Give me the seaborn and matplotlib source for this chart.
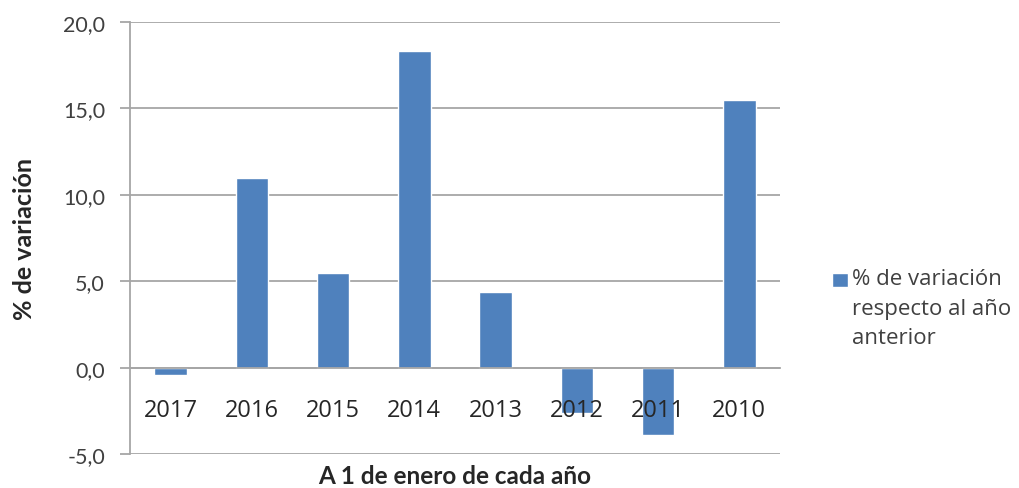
import pandas as pd
import matplotlib
matplotlib.use("Agg")
import matplotlib.pyplot as plt
from matplotlib.patches import Rectangle
from matplotlib.legend_handler import HandlerPatch
import seaborn as sns

# Data
years = ["2017", "2016", "2015", "2014", "2013", "2012", "2011", "2010"]
variation = [-0.4, 11.0, 5.5, 18.3, 4.4, -2.6, -3.9, 15.5]
series_name = "% de variación\nrespecto al año\nanterior"

df = pd.DataFrame({"year": years, "variation": variation, "serie": series_name})


# Excel puts the legend key next to the first line of a wrapped label
class FirstLineHandler(HandlerPatch):
    def __init__(self, shift, **kw):
        super().__init__(**kw)
        self.shift = shift

    def create_artists(self, legend, orig_handle, xdescent, ydescent,
                       width, height, fontsize, trans):
        p = Rectangle((-xdescent, -ydescent + self.shift), width, height)
        self.update_prop(p, orig_handle, legend)
        p.set_transform(trans)
        return [p]


sns.set_style("white")
plt.rcParams["font.family"] = ["Lato", "DejaVu Sans"]

fig = plt.figure(figsize=(10.2, 4.89), dpi=100)
ax = fig.add_axes([130 / 1020, 1 - 455 / 489, (780 - 130) / 1020, (455 - 23) / 489])

sns.barplot(data=df, x="year", y="variation", hue="serie", palette=["#4F81BD"],
            saturation=1, width=0.4, ax=ax, zorder=2)

ax.set_ylim(-5, 20)
ax.set_yticks([-5, 0, 5, 10, 15, 20])
ax.set_yticklabels([f"{v:.1f}".replace(".", ",") for v in [-5, 0, 5, 10, 15, 20]])
ax.yaxis.grid(True, color="#A6A6A6", linewidth=1.3)
ax.yaxis.set_zorder(0.5)
ax.xaxis.set_zorder(5)  # category labels drawn over the bars

# category axis crosses at zero
for s in ["top", "right"]:
    ax.spines[s].set_visible(False)
ax.spines["bottom"].set_position(("data", 0))
ax.spines["bottom"].set_color("#A6A6A6")
ax.spines["bottom"].set_linewidth(1.3)
ax.spines["left"].set_color("#A6A6A6")
ax.spines["left"].set_linewidth(1.3)

ax.tick_params(axis="x", length=0, pad=22, labelcolor="#262626")
for t in ax.get_xticklabels():
    t.set_fontfamily(["Open Sans", "DejaVu Sans"])
    t.set_fontsize(17)
ax.tick_params(axis="y", length=7, width=1.3, color="#A6A6A6", pad=11,
               labelsize=15.5, labelcolor="#404040", left=True)

ax.set_xlabel("A 1 de enero de cada año", fontsize=17.5, fontweight="bold",
              color="#262626", va="center")
ax.xaxis.set_label_coords(0.5, -0.05)
ax.set_ylabel("% de variación", fontsize=18, fontweight="bold", color="#262626",
              va="center")
ax.yaxis.set_label_coords(-0.162, 0.5)

handles, labels = ax.get_legend_handles_labels()
leg = ax.legend(handles, labels, loc="upper left", bbox_to_anchor=(1.08, 0.43),
                frameon=False, borderpad=0, borderaxespad=0,
                prop={"family": ["Open Sans", "DejaVu Sans"], "size": 16},
                handlelength=0.72, handleheight=0.54, handletextpad=0.18,
                labelcolor="#404040",
                handler_map={handles[0]: FirstLineHandler(shift=20.5)})
for t in leg.get_texts():
    t.set_linespacing(1.53)

fig.savefig("out.png", dpi=100)
